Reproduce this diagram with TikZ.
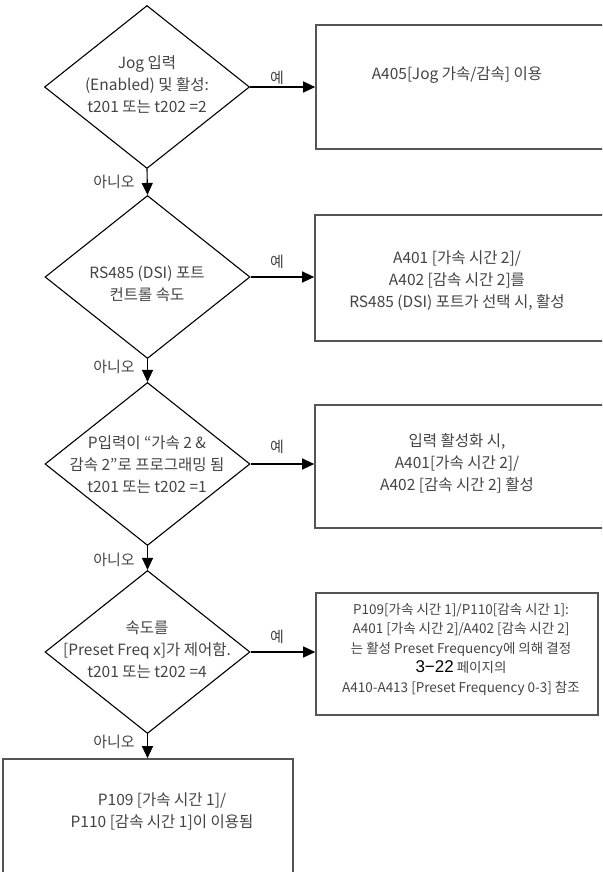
\documentclass[tikz,border=0pt]{standalone}
\usepackage{fontspec}
\setmainfont{Noto Sans CJK KR}
\newfontfamily\numfont{Liberation Sans}
\usetikzlibrary{shapes.geometric,arrows.meta}
\definecolor{txtc}{HTML}{444444}
\definecolor{boxc}{HTML}{555555}
\begin{document}
\begin{tikzpicture}[x=1pt,y=-1pt,
  dia/.style={diamond, draw=black, line width=1.1pt, minimum width=205pt, minimum height=163pt, inner sep=0pt},
  rbox/.style={rectangle, draw=boxc, line width=1.6pt, inner sep=0pt},
  txt/.style={text=txtc, font=\fontsize{15.5}{22}\selectfont, align=center, inner sep=0pt},
  smalltxt/.style={text=txtc, font=\fontsize{13.5}{19.5}\selectfont, align=center, inner sep=0pt},
  lbl/.style={text=txtc, font=\fontsize{15}{16}\selectfont, inner sep=0pt},
  arr/.style={draw=black, line width=1.1pt, -{Triangle[length=12pt,width=11pt]}}]
\useasboundingbox (0,0) rectangle (602,872);
\fill[white] (0,0) rectangle (602,872);
\clip (0,0) rectangle (602,872);

% decisions
\node[dia] (d1) at (147,87) {};
\node[dia] (d2) at (147.5,277) {};
\node[dia] (d3) at (147.5,464) {};
\node[dia] (d4) at (147.5,652) {};

\node[txt] (d1t) at (147,85) {Jog 입력\\(Enabled) 및 활성:\\t201 또는 t202 =2};
\node[txt] (d2t) at (147,284) {RS485 (DSI) 포트\\컨트롤 속도};
\node[txt] (d3t) at (147,465) {P입력이 “가속 2 \&\\감속 2”로 프로그래밍 됨\\t201 또는 t202 =1};
\node[txt] (d4t) at (147,650) {속도를\\{[}Preset Freq x{]}가 제어함.\\t201 또는 t202 =4};

% boxes
\node[rbox, minimum width=294pt, minimum height=124pt] (b1) at (463,87) {};
\node[rbox, minimum width=295pt, minimum height=126pt] (b2) at (462.5,278) {};
\node[rbox, minimum width=295pt, minimum height=123pt] (b3) at (462.5,466.5) {};
\node[rbox, minimum width=282pt, minimum height=122pt] (b4) at (457,654) {};
\node[rbox, minimum width=290pt, minimum height=126pt] (b5) at (148,822) {};

\node[txt] (b1t) at (457,75) {A405{[}Jog 가속/감속{]} 이용};
\node[txt] (b2t) at (457,281) {A401 {[}가속 시간 2{]}/\\A402 {[}감속 시간 2{]}를\\RS485 (DSI) 포트가 선택 시, 활성};
\node[txt] (b3t) at (457,463) {입력 활성화 시,\\A401{[}가속 시간 2{]}/\\A402 {[}감속 시간 2{]} 활성};
\node[smalltxt] (b4t) at (461,649) {P109{[}가속 시간 1{]}/P110{[}감속 시간 1{]}:\\A401 {[}가속 시간 2{]}/A402 {[}감속 시간 2{]}\\는 활성 Preset Frequency에 의해 결정\\{\numfont\fontsize{17}{19.5}\selectfont\color{black}3−22} 페이지의\hspace*{40pt}\\A410-A413 {[}Preset Frequency 0-3{]} 참조};
\node[txt] (b5t) at (162,811) {P109 {[}가속 시간 1{]}/\\P110 {[}감속 시간 1{]}이 이용됨};

% yes arrows
\draw[arr] (d1.east) -- (d1.east -| b1.west);
\draw[arr] (d2.east) -- (d2.east -| b2.west);
\draw[arr] (d3.east) -- (d3.east -| b3.west);
\draw[arr] (d4.east) -- (d4.east -| b4.west);
\node[lbl] (y1) at (277,78) {예};
\node[lbl] (y2) at (277,262) {예};
\node[lbl] (y3) at (277,447) {예};
\node[lbl] (y4) at (277,637) {예};

% no arrows
\draw[arr] (d1.south) -- (d2.north);
\draw[arr] (d2.south) -- (d3.north);
\draw[arr] (d3.south) -- (d4.north);
\draw[arr] (d4.south) -- (d4.south |- b5.north);
\node[lbl] (n1) at (114,182) {아니오};
\node[lbl] (n2) at (114,367) {아니오};
\node[lbl] (n3) at (114,560) {아니오};
\node[lbl] (n4) at (114,742) {아니오};
\end{tikzpicture}
\end{document}
